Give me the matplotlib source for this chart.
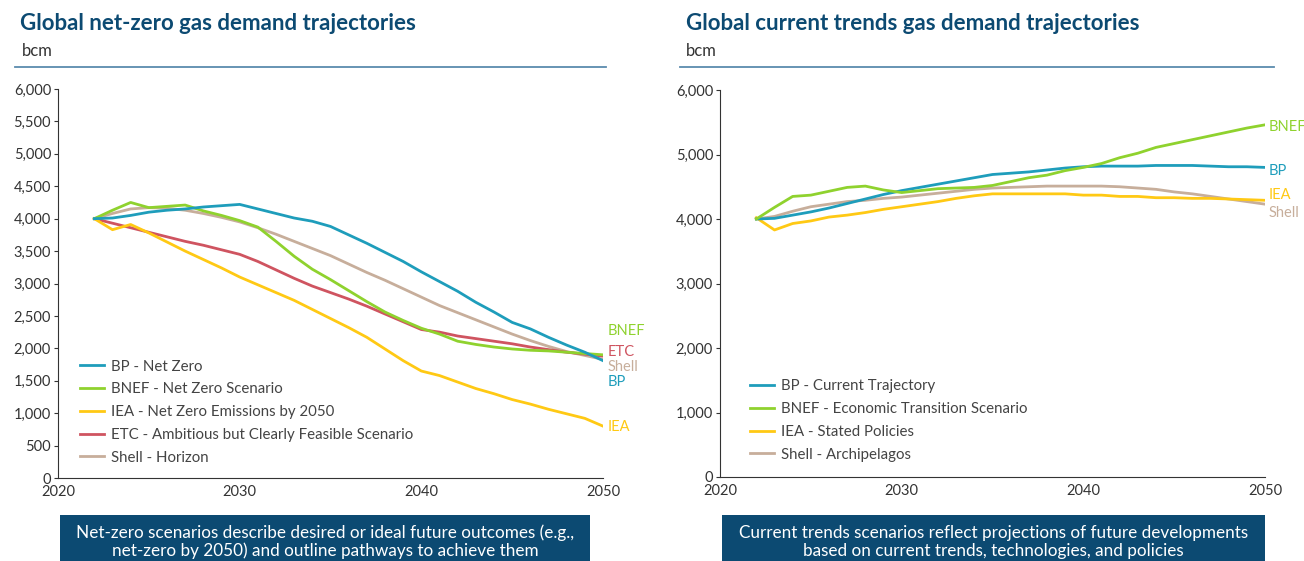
import matplotlib.pyplot as plt
from matplotlib.patches import Rectangle
from matplotlib.lines import Line2D

plt.rcParams['font.family'] = ['Lato', 'DejaVu Sans']

years = list(range(2022, 2051))

# net-zero scenarios (bcm)
nz_bp = [4000, 4010, 4050, 4100, 4130, 4150, 4180, 4200, 4220, 4150, 4080, 4010, 3960, 3880, 3750,
         3620, 3480, 3340, 3180, 3030, 2880, 2710, 2560, 2400, 2300, 2170, 2050, 1940, 1810]
nz_bnef = [4000, 4130, 4250, 4170, 4190, 4210, 4120, 4050, 3970, 3870, 3650, 3420, 3220, 3060, 2890,
           2720, 2560, 2430, 2310, 2220, 2110, 2060, 2020, 1990, 1970, 1960, 1940, 1920, 1900]
nz_iea = [4000, 3830, 3910, 3780, 3640, 3500, 3370, 3240, 3100, 2980, 2860, 2740, 2600, 2460, 2320,
          2170, 1990, 1810, 1650, 1580, 1480, 1380, 1300, 1210, 1140, 1060, 990, 920, 800]
nz_etc = [4000, 3930, 3860, 3790, 3720, 3650, 3590, 3520, 3450, 3340, 3210, 3080, 2960, 2860, 2760,
          2650, 2530, 2410, 2290, 2250, 2190, 2150, 2110, 2070, 2020, 1980, 1940, 1910, 1880]
nz_shell = [4000, 4080, 4150, 4170, 4160, 4130, 4080, 4020, 3950, 3860, 3760, 3650, 3540, 3430, 3300,
            3170, 3050, 2920, 2790, 2660, 2550, 2440, 2330, 2220, 2120, 2030, 1950, 1890, 1830]

# current trends scenarios (bcm)
ct_bp = [4000, 4010, 4060, 4110, 4170, 4240, 4310, 4380, 4440, 4490, 4540, 4590, 4640, 4690, 4710,
         4730, 4760, 4790, 4810, 4820, 4820, 4820, 4830, 4830, 4830, 4820, 4810, 4810, 4800]
ct_bnef = [4000, 4180, 4350, 4370, 4430, 4490, 4510, 4450, 4410, 4440, 4470, 4480, 4490, 4520, 4580,
           4640, 4680, 4750, 4800, 4860, 4950, 5020, 5110, 5170, 5230, 5290, 5350, 5410, 5460]
ct_iea = [4020, 3830, 3930, 3970, 4030, 4060, 4100, 4150, 4190, 4230, 4270, 4320, 4360, 4390, 4390,
          4390, 4390, 4390, 4370, 4370, 4350, 4350, 4330, 4330, 4320, 4320, 4310, 4300, 4290]
ct_shell = [4000, 4040, 4120, 4190, 4230, 4270, 4290, 4320, 4340, 4370, 4400, 4430, 4460, 4480, 4490,
            4500, 4510, 4510, 4510, 4510, 4500, 4480, 4460, 4420, 4390, 4350, 4310, 4270, 4230]

nz_labels = ["BP - Net Zero", "BNEF - Net Zero Scenario", "IEA - Net Zero Emissions by 2050",
             "ETC - Ambitious but Clearly Feasible Scenario", "Shell - Horizon"]
ct_labels = ["BP - Current Trajectory", "BNEF - Economic Transition Scenario",
             "IEA - Stated Policies", "Shell - Archipelagos"]

# end labels: (text, y position)
nz_end = [("BNEF", 2270), ("ETC", 1940), ("Shell", 1710), ("BP", 1480), ("IEA", 790)]
ct_end = [("BNEF", 5430), ("BP", 4740), ("IEA", 4370), ("Shell", 4090)]

c_bp = "#1E9DBB"
c_bnef = "#8FD22E"
c_iea = "#FFC914"
c_etc = "#CF5460"
c_shell = "#C7AE9B"
navy = "#0C4A72"
end_colors = {"BP": c_bp, "BNEF": c_bnef, "IEA": c_iea, "ETC": c_etc, "Shell": c_shell}

fig = plt.figure(figsize=(13.04, 5.61), dpi=100)

ax1 = fig.add_axes([58 / 1304, 83 / 561, 545 / 1304, 389 / 561])
ax2 = fig.add_axes([720 / 1304, 84 / 561, 545 / 1304, 387 / 561])


def style(ax):
    ax.set_xlim(2020, 2050)
    ax.set_ylim(0, 6000)
    ax.spines['top'].set_visible(False)
    ax.spines['right'].set_visible(False)
    ax.spines['left'].set_color("#333333")
    ax.spines['bottom'].set_color("#333333")
    ax.set_xticks([2020, 2030, 2040, 2050])
    ax.tick_params(axis='x', length=0, labelsize=10.5, colors="#333333", pad=5)
    ax.tick_params(axis='y', length=3, labelsize=10.5, colors="#333333", pad=2, direction='out')


def legend(ax, labels, colors, x0, y0):
    handles = [Line2D([0], [0], color=c, lw=2) for c in colors]
    ax.legend(handles, labels, loc='lower left', bbox_to_anchor=(x0, y0), frameon=False,
              fontsize=10.8, handlelength=1.6, handletextpad=0.5, labelspacing=0.58,
              labelcolor="#444444")


nz_series = [nz_bp, nz_bnef, nz_iea, nz_etc, nz_shell]
nz_colors = [c_bp, c_bnef, c_iea, c_etc, c_shell]
for i in [4, 3, 2, 1, 0]:
    ax1.plot(years, nz_series[i], color=nz_colors[i], lw=2)
style(ax1)
ax1.set_yticks(range(0, 6001, 500))
ax1.set_yticklabels([f"{v:,}" for v in range(0, 6001, 500)])
legend(ax1, nz_labels, nz_colors, 0.015, 0.0)
for name, yv in nz_end:
    ax1.text(2050.25, yv, name, color=end_colors[name], fontsize=10.5, va='center', ha='left')

ct_series = [ct_bp, ct_bnef, ct_iea, ct_shell]
ct_colors = [c_bp, c_bnef, c_iea, c_shell]
for i in [3, 2, 0, 1]:
    ax2.plot(years, ct_series[i], color=ct_colors[i], lw=2)
style(ax2)
ax2.set_yticks(range(0, 6001, 1000))
ax2.set_yticklabels([f"{v:,}" for v in range(0, 6001, 1000)])
legend(ax2, ct_labels, ct_colors, 0.03, 0.005)
for name, yv in ct_end:
    ax2.text(2050.2, yv, name, color=end_colors[name], fontsize=10.5, va='center', ha='left')

# headers
fig.text(20 / 1304, 1 - 23 / 561, "Global net-zero gas demand trajectories", fontsize=16,
         fontweight='bold', color=navy, va='center', ha='left')
fig.text(686 / 1304, 1 - 23 / 561, "Global current trends gas demand trajectories", fontsize=16,
         fontweight='bold', color=navy, va='center', ha='left')
fig.text(22 / 1304, 1 - 51 / 561, "bcm", fontsize=12, color="#333333", va='center', ha='left')
fig.text(686 / 1304, 1 - 51 / 561, "bcm", fontsize=12, color="#333333", va='center', ha='left')
fig.add_artist(Line2D([15 / 1304, 606 / 1304], [1 - 67 / 561] * 2, color="#5B8BAE", lw=1.3))
fig.add_artist(Line2D([680 / 1304, 1274 / 1304], [1 - 67 / 561] * 2, color="#5B8BAE", lw=1.3))

# footnote boxes
boxes = [
    (60, 530, "Net-zero scenarios describe desired or ideal future outcomes (e.g.,\nnet-zero by 2050) and outline pathways to achieve them"),
    (722, 543, "Current trends scenarios reflect projections of future developments\nbased on current trends, technologies, and policies"),
]
for x0, w, txt in boxes:
    fig.add_artist(Rectangle((x0 / 1304, 0), w / 1304, 46 / 561, transform=fig.transFigure,
                             facecolor=navy, edgecolor='none'))
    fig.text((x0 + w / 2) / 1304, 1 - 542 / 561, txt, color='white', fontsize=12.3,
             ha='center', va='center', linespacing=1.1)

fig.savefig("out.png", dpi=100)
